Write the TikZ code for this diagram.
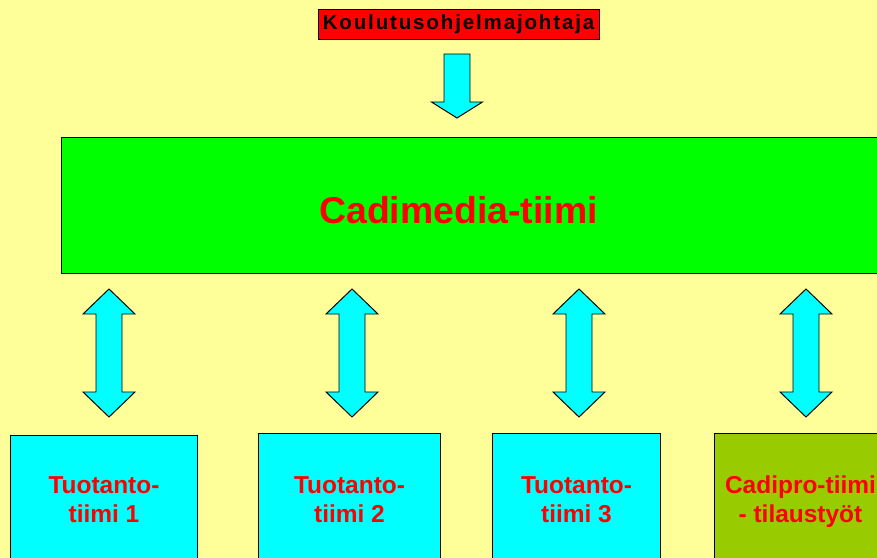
\documentclass[tikz,border=0pt]{standalone}
\usepackage{fontspec}
\setmainfont{Liberation Sans}
\usetikzlibrary{calc}
\definecolor{pagebg}{HTML}{FFFF99}
\definecolor{leadred}{HTML}{FF0000}
\definecolor{textred}{HTML}{FF0000}
\definecolor{teamgreen}{HTML}{00FF00}
\definecolor{arrowcyan}{HTML}{00FFFF}
\definecolor{orderolive}{HTML}{99CC00}
\newcommand{\pxu}{0.025cm}
\tikzset{
  box/.style={
    draw=black,
    line width=0.7pt,
    inner sep=0pt
  },
  lead-box/.style={
    box,
    fill=leadred,
    font=\fontsize{14.6pt}{15pt}\selectfont\bfseries\addfontfeature{LetterSpace=9}
  },
  team-box/.style={
    box,
    fill=arrowcyan,
    text=textred,
    align=center,
    text depth=0pt,
    font=\fontsize{17.4pt}{20.8pt}\selectfont\bfseries
  },
  title-text/.style={
    inner sep=0pt,
    text=textred,
    font=\fontsize{26.6pt}{30pt}\selectfont\bfseries
  },
  block-arrow/.style={
    fill=arrowcyan,
    draw=black,
    line width=0.7pt,
    line join=miter
  },
  block-down/.style={
    block-arrow,
    to path={($(\tikztostart)+(-13,0)$) -- ($(\tikztostart)+(13,0)$)
      -- ($(\tikztotarget)+(13,-16)$) -- ++(12.5,0) -- (\tikztotarget)
      -- ++(-25.5,-16) -- ++(12.5,0) -- cycle}
  },
  block-dbl/.style={
    block-arrow,
    to path={(\tikztostart) -- ++(26,25) -- ++(-13,0)
      -- ($(\tikztotarget)+(13,-25)$) -- ++(13,0) -- (\tikztotarget)
      -- ++(-26,-25) -- ++(13,0) -- ($(\tikztostart)+(-13,25)$)
      -- ++(-13,0) -- cycle}
  }
}

\begin{document}
\begin{tikzpicture}[x=\pxu,y=-\pxu]
  \useasboundingbox (0,0) rectangle (877,558);
  \fill[pagebg] (0,0) rectangle (877,558);
  \clip (0,0) rectangle (877,558);
  % Leader on top
  \node[lead-box, minimum width=281*\pxu, minimum height=30*\pxu] (lead) at (458.5,24) {Koulutusohjelmajohtaja};
  % Main team band
  \node[box, fill=teamgreen, anchor=north west, minimum width=840*\pxu, minimum height=136*\pxu] (cadimedia) at (61,137) {};
  \node[title-text] (cadtitle) at (458.5,210) {Cadimedia-tiimi};
  % Sub teams
  \node[team-box, anchor=north west, minimum width=187*\pxu, minimum height=128*\pxu] (team1) at (10,435) {Tuotanto-\\tiimi 1};
  \node[team-box, anchor=north west, minimum width=182*\pxu, minimum height=132*\pxu] (team2) at (258,433) {Tuotanto-\\tiimi 2};
  \node[team-box, anchor=north west, minimum width=168*\pxu, minimum height=132*\pxu] (team3) at (492,433) {Tuotanto-\\tiimi 3};
  \node[team-box, fill=orderolive, anchor=north west, minimum width=172*\pxu, minimum height=132*\pxu] (cadipro) at (714,433) {Cadipro-tiimi\\- tilaustyöt};
  % Arrows
  \coordinate (lead-out) at (457,54);
  \coordinate (cad-in) at (457,118);
  \draw[block-down] (lead-out) to (cad-in);
  \foreach \n/\ax in {1/109,2/352,3/579,4/806}{
    \coordinate (up\n) at (\ax,289);
    \coordinate (dn\n) at (\ax,417);
    \draw[block-dbl] (up\n) to (dn\n);
  }
\end{tikzpicture}
\end{document}
